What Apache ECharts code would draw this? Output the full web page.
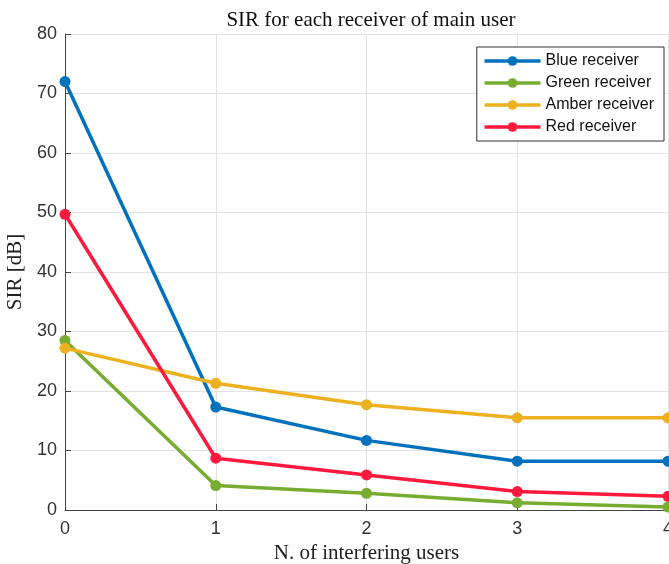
<!DOCTYPE html>
<html>
<head>
<meta charset="utf-8">
<script src="https://cdn.jsdelivr.net/npm/echarts@6/dist/echarts.min.js"></script>
<style>
  html, body { margin: 0; padding: 0; background: #fff; }
  #chart { width: 669px; height: 564px; }
</style>
</head>
<body>
<div id="chart"></div>
<script>
const users = [0, 1, 2, 3, 4]
const blue = [72.0, 17.3, 11.7, 8.2, 8.2]
const green = [28.5, 4.1, 2.8, 1.2, 0.5]
const amber = [27.2, 21.3, 17.7, 15.5, 15.5]
const red = [49.7, 8.7, 5.9, 3.1, 2.3]

const pairs = vals => users.map((u, i) => [u, vals[i]])

const mkSeries = (name, vals, color) => ({
  name: name,
  type: 'line',
  data: pairs(vals),
  symbol: 'circle',
  symbolSize: 11,
  lineStyle: { width: 3.5, color: color },
  itemStyle: { color: color },
  clip: false
})

const chart = echarts.init(document.getElementById('chart'))
chart.setOption({
  backgroundColor: '#fff',
  animation: false,
  title: {
    text: 'SIR for each receiver of main user',
    left: 366,
    textAlign: 'center',
    top: 5,
    textStyle: { fontFamily: 'Liberation Serif', fontWeight: 'normal', fontSize: 21, color: '#111' }
  },
  legend: {
    right: 5,
    top: 47,
    orient: 'vertical',
    itemWidth: 56,
    itemHeight: 12,
    itemGap: 6,
    padding: [6, 10, 6, 6],
    backgroundColor: '#fff',
    borderColor: '#333',
    borderWidth: 1,
    borderRadius: 0,
    lineStyle: { width: 3.5 },
    textStyle: { fontFamily: 'Liberation Sans', fontSize: 16, color: '#111' },
    data: ['Blue receiver', 'Green receiver', 'Amber receiver', 'Red receiver']
  },
  grid: { left: 65, right: 1, top: 34, bottom: 54, outerBoundsMode: 'none' },
  xAxis: {
    type: 'value',
    min: 0,
    max: 4,
    interval: 1,
    name: 'N. of interfering users',
    nameLocation: 'middle',
    nameGap: 29,
    nameTextStyle: { fontFamily: 'Liberation Serif', fontSize: 21, color: '#222' },
    axisLine: { lineStyle: { color: '#444', width: 1 } },
    axisTick: { inside: true, length: 6, lineStyle: { color: '#444' } },
    axisLabel: { fontFamily: 'Liberation Sans', fontSize: 18, color: '#333', margin: 10 },
    splitLine: { show: true, lineStyle: { color: '#e3e3e3' } }
  },
  yAxis: {
    type: 'value',
    min: 0,
    max: 80,
    interval: 10,
    name: 'SIR [dB]',
    nameLocation: 'middle',
    nameGap: 37,
    nameTextStyle: { fontFamily: 'Liberation Serif', fontSize: 21, color: '#222' },
    axisLine: { show: true, lineStyle: { color: '#444', width: 1 } },
    axisTick: { show: true, inside: true, length: 6, lineStyle: { color: '#444' } },
    axisLabel: { fontFamily: 'Liberation Sans', fontSize: 18, color: '#333', margin: 8 },
    splitLine: { show: true, lineStyle: { color: '#e3e3e3' } }
  },
  series: [
    mkSeries('Blue receiver', blue, '#0072BD'),
    mkSeries('Green receiver', green, '#77AC30'),
    mkSeries('Amber receiver', amber, '#EDB120'),
    mkSeries('Red receiver', red, '#FF1A3D')
  ]
})
</script>
</body>
</html>
